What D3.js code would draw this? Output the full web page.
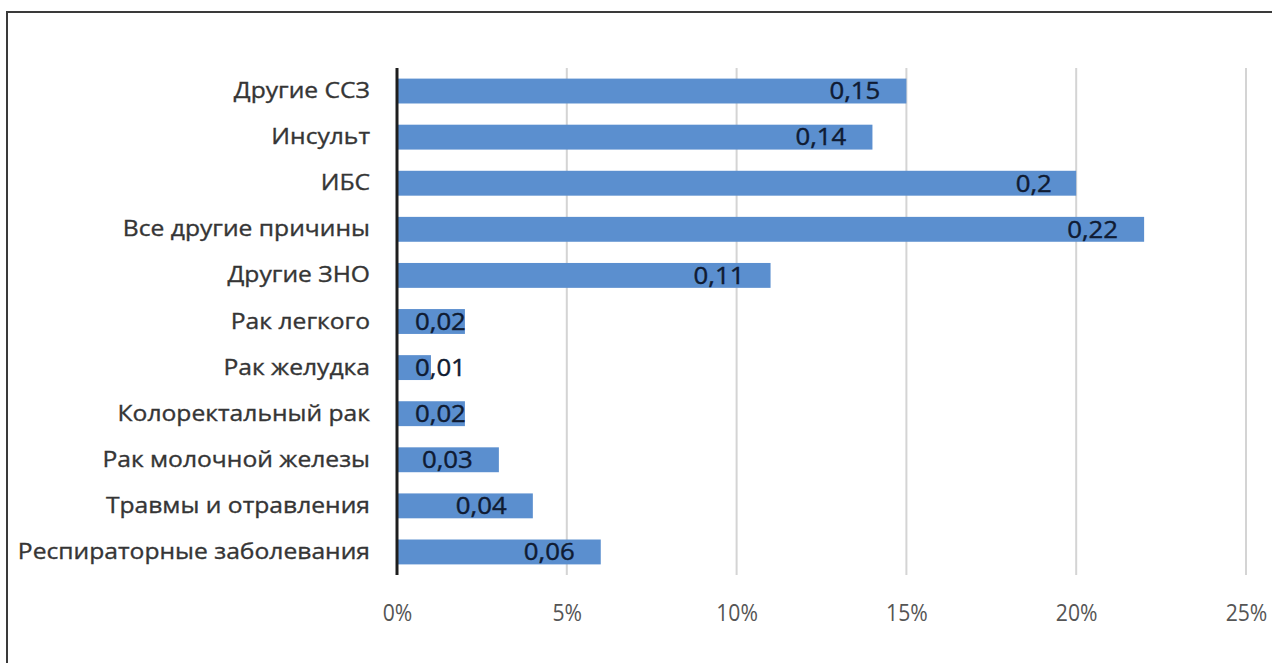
<!DOCTYPE html>
<html>
<head>
<meta charset="utf-8">
<script src="https://cdnjs.cloudflare.com/ajax/libs/d3/7.8.5/d3.min.js"></script>
<style>
  body { margin: 0; background: #fff; }
  svg { display: block; }
  text { font-family: "Open Sans", Lato, sans-serif; }
</style>
</head>
<body>
<script>
// data, top to bottom
var categories = ["Другие ССЗ", "Инсульт", "ИБС", "Все другие причины", "Другие ЗНО",
  "Рак легкого", "Рак желудка", "Колоректальный рак", "Рак молочной железы",
  "Травмы и отравления", "Респираторные заболевания"];
var values = [0.15, 0.14, 0.2, 0.22, 0.11, 0.02, 0.01, 0.02, 0.03, 0.04, 0.06];
var valueLabels = ["0,15", "0,14", "0,2", "0,22", "0,11", "0,02", "0,01", "0,02", "0,03", "0,04", "0,06"];
var tickValues = [0, 0.05, 0.1, 0.15, 0.2, 0.25];

var W = 1272, H = 663;
var margin = {top: 68, left: 397, right: 26, bottom: 88};
var width = W - margin.left - margin.right,
    height = H - margin.top - margin.bottom;

var svg = d3.select("body").append("svg").attr("width", W).attr("height", H);

// outer frame (runs past the right and bottom edge like the scan)
svg.append("rect").attr("x", 7).attr("y", 12).attr("width", W + 10).attr("height", H + 10)
  .attr("fill", "none").attr("stroke", "#3a3a3a").attr("stroke-width", 2);

var g = svg.append("g").attr("transform", "translate(" + margin.left + "," + margin.top + ")");

var x = d3.scaleLinear().domain([0, 0.25]).range([0, width]);
var y = d3.scaleBand().domain(categories).range([0, height]).paddingInner(0.46).paddingOuter(0.23);

// stretch text horizontally a bit, the original font is wider than what we have
function stretch(sel, k) {
  sel.each(function() {
    var len = this.getComputedTextLength();
    d3.select(this).attr("textLength", len * k).attr("lengthAdjust", "spacingAndGlyphs");
  });
}

// vertical gridlines
g.selectAll(".grid").data(tickValues.slice(1)).enter().append("line")
  .attr("class", "grid")
  .attr("x1", function(d){ return x(d); }).attr("x2", function(d){ return x(d); })
  .attr("y1", 0).attr("y2", height)
  .attr("stroke", "#d4d4d4").attr("stroke-width", 2);

// bars
g.selectAll(".bar").data(values).enter().append("rect")
  .attr("class", "bar")
  .attr("x", 0)
  .attr("y", function(d, i){ return y(categories[i]); })
  .attr("width", function(d){ return x(d); })
  .attr("height", y.bandwidth())
  .attr("fill", "#5b8fcf");

// value labels near the bar end, pushed right when the bar is too short
var vals = g.selectAll(".val").data(values).enter().append("text")
  .attr("class", "val")
  .attr("y", function(d, i){ return y(categories[i]) + y.bandwidth() / 2; })
  .attr("dy", "0.36em")
  .attr("font-size", 23)
  .attr("fill", "#0f1b33")
  .attr("stroke", "#0f1b33").attr("stroke-width", 0.4)
  .text(function(d, i){ return valueLabels[i]; });
stretch(vals, 1.12);
vals.attr("x", function(d) {
  var w = this.getComputedTextLength() * 1.12;
  return Math.max(x(d) - 20 - w, 18);
});

// axis line at zero
g.append("line").attr("x1", 0).attr("x2", 0).attr("y1", 0).attr("y2", height)
  .attr("stroke", "#1e1e1e").attr("stroke-width", 3);

// category axis
var yAxis = d3.axisLeft(y).tickSize(0).tickPadding(27);
var catText = g.append("g").call(yAxis)
  .call(function(s){ s.select(".domain").remove(); })
  .selectAll("text")
  .attr("font-size", 22)
  .attr("fill", "#353535")
  .attr("stroke", "#353535").attr("stroke-width", 0.35);
stretch(catText, 1.12);

// percent axis
var xAxis = d3.axisBottom(x).tickValues(tickValues).tickSize(0).tickPadding(30)
  .tickFormat(d3.format(".0%"));
var tickText = g.append("g").attr("transform", "translate(0," + height + ")").call(xAxis)
  .call(function(s){ s.select(".domain").remove(); })
  .selectAll("text")
  .attr("font-size", 23)
  .attr("fill", "#555");
stretch(tickText, 0.92);
</script>
</body>
</html>
